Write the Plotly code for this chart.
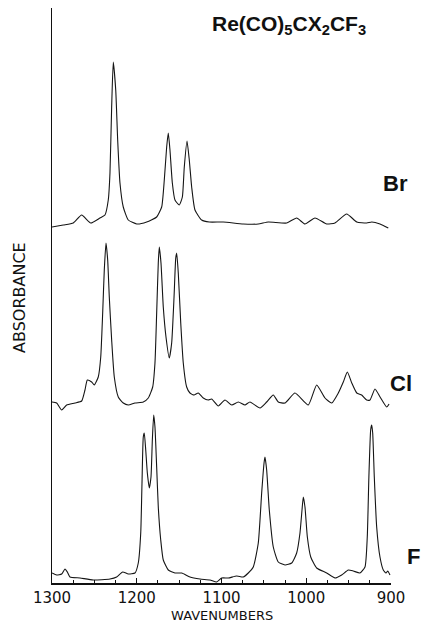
import plotly.graph_objects as go

# ---- data (wavenumber, absorbance relative to each trace's baseline) ----
br_wn = [1300, 1286.7, 1274.9, 1265.0, 1254.3, 1243.4, 1237.5, 1233.6, 1231.6, 1229.6, 1227.7,
         1224.8, 1222.5, 1219.8, 1215.9, 1210.0, 1200.0, 1188.3, 1176.5, 1170.6, 1167.5, 1164.7,
         1162.8, 1160.8, 1158.0, 1154.9, 1149.8, 1146.2, 1143.9, 1140.7, 1138.0, 1135.2, 1131.3,
         1123.4, 1114.4, 1097.9, 1074.3, 1056.6, 1044.8, 1023.1, 1011.3, 1001.5, 989.7, 975.9,
         966.1, 952.3, 940.4, 928.7, 922.7, 913.0, 903.2]
br_abs = [0.02, 0.04, 0.06, 0.14, 0.06, 0.11, 0.14, 0.29, 0.56, 1.22, 1.67,
          1.39, 0.89, 0.46, 0.22, 0.09, 0.05, 0.07, 0.12, 0.22, 0.49, 0.82,
          0.96, 0.79, 0.46, 0.29, 0.24, 0.32, 0.62, 0.88, 0.69, 0.42, 0.19,
          0.09, 0.07, 0.07, 0.05, 0.05, 0.07, 0.06, 0.11, 0.05, 0.11, 0.05,
          0.06, 0.15, 0.07, 0.06, 0.07, 0.05, 0.01]

cl_wn = [1300, 1294.5, 1288.6, 1282.7, 1272.9, 1265.0, 1261.1, 1258.3, 1253.2, 1250.1, 1245.4,
         1242.5, 1240.2, 1238.3, 1236.3, 1234.3, 1232.4, 1229.6, 1226.5, 1221.8, 1215.9, 1210.0,
         1202.1, 1192.3, 1186.4, 1181.2, 1178.5, 1176.5, 1174.6, 1173.4, 1171.4, 1168.7, 1165.5,
         1161.6, 1158.8, 1156.0, 1154.0, 1152.9, 1151.0, 1148.1, 1145.1, 1141.1, 1137.2, 1132.4,
         1127.4, 1121.5, 1115.6, 1111.6, 1103.8, 1095.9, 1087.9, 1080.2, 1072.3, 1066.4, 1054.6,
         1046.7, 1038.9, 1033.0, 1025.1, 1013.3, 997.6, 987.7, 977.9, 970.0, 962.2, 956.3,
         951.5, 946.3, 940.4, 934.6, 928.7, 924.8, 918.9, 912.9, 905.1, 902.3]
cl_abs = [0.09, 0.08, 0.01, 0.06, 0.08, 0.10, 0.21, 0.31, 0.29, 0.26, 0.34,
          0.54, 0.98, 1.41, 1.68, 1.51, 1.14, 0.71, 0.34, 0.14, 0.08, 0.06,
          0.08, 0.09, 0.13, 0.24, 0.48, 0.98, 1.48, 1.64, 1.48, 1.04, 0.74,
          0.53, 0.68, 1.14, 1.53, 1.58, 1.38, 0.88, 0.48, 0.24, 0.18, 0.16,
          0.18, 0.13, 0.11, 0.12, 0.05, 0.11, 0.06, 0.09, 0.06, 0.09, 0.03,
          0.09, 0.16, 0.09, 0.08, 0.18, 0.06, 0.26, 0.13, 0.08, 0.18, 0.29,
          0.39, 0.28, 0.18, 0.16, 0.11, 0.11, 0.22, 0.14, 0.04, 0.07]

f_wn = [1300, 1294.5, 1288.6, 1284.7, 1281.9, 1278.8, 1267.0, 1251.3, 1231.6, 1223.7, 1216.6,
        1210.0, 1202.1, 1198.2, 1195.3, 1193.8, 1192.3, 1191.1, 1189.4, 1187.5, 1185.2, 1183.2,
        1181.6, 1180.0, 1178.5, 1176.5, 1174.6, 1171.7, 1168.7, 1162.8, 1154.9, 1146.9, 1137.2,
        1125.4, 1113.6, 1105.7, 1099.8, 1092.0, 1082.1, 1074.3, 1068.4, 1062.5, 1056.6, 1052.6,
        1049.8, 1048.7, 1046.7, 1043.6, 1038.9, 1033.0, 1025.1, 1017.2, 1011.3, 1007.4, 1005.0,
        1003.5, 1001.5, 998.7, 994.7, 987.7, 975.9, 966.1, 958.2, 950.4, 944.5, 936.6,
        930.7, 928.0, 926.1, 924.0, 922.8, 921.6, 919.7, 916.9, 913.0, 909.1, 905.9,
        903.9, 901.2]
f_abs = [0.10, 0.08, 0.09, 0.14, 0.11, 0.06, 0.05, 0.03, 0.04, 0.06, 0.11,
         0.09, 0.10, 0.20, 0.50, 1.00, 1.46, 1.50, 1.33, 1.10, 0.95, 1.06,
         1.43, 1.68, 1.56, 1.16, 0.76, 0.43, 0.23, 0.13, 0.10, 0.10, 0.06,
         0.04, 0.03, 0.01, 0.05, 0.05, 0.07, 0.06, 0.10, 0.16, 0.40, 0.90,
         1.20, 1.26, 1.13, 0.73, 0.36, 0.21, 0.18, 0.20, 0.30, 0.50, 0.73,
         0.86, 0.76, 0.46, 0.26, 0.15, 0.10, 0.05, 0.08, 0.13, 0.12, 0.10,
         0.16, 0.46, 1.06, 1.53, 1.58, 1.50, 1.06, 0.56, 0.26, 0.13, 0.10,
         0.12, 0.08]

series_names = ["Br", "Cl", "F"]
x_ticks = [1300, 1200, 1100, 1000, 900]
x_tick_labels = ["1300", "1200", "1100", "1000", "900"]

# vertical stacking offsets (layout, not data)
offsets = {"Br": 3.54, "Cl": 1.72, "F": 0.0}
spectra = {"Br": (br_wn, br_abs), "Cl": (cl_wn, cl_abs), "F": (f_wn, f_abs)}

fig = go.Figure()
for name in series_names:
    wn, ab = spectra[name]
    fig.add_trace(go.Scatter(
        x=wn, y=[a + offsets[name] for a in ab], mode="lines",
        line=dict(color="#151515", width=1.1, shape="spline", smoothing=0.5),
        name=name, showlegend=False, hoverinfo="skip"))

# page body has an 8px margin, so the figure is 8px smaller and shifted
W, H = 425, 616
fig.update_layout(
    width=W, height=H,
    margin=dict(l=44, r=42, t=0, b=41),
    paper_bgcolor="white", plot_bgcolor="white",
    xaxis=dict(range=[1300, 900], tickvals=x_ticks, ticktext=x_tick_labels,
               showline=True, linecolor="#111", linewidth=1.5, showgrid=False,
               zeroline=False, ticks="inside", ticklen=5, tickcolor="#111",
               tickfont=dict(family="DejaVu Sans", size=15, color="#111"),
               ticklabelstandoff=0,
               minor=dict(dtick=25, ticks="inside", ticklen=3, tickcolor="#111")),
    yaxis=dict(range=[0, 5.75], showline=True, linecolor="#111", linewidth=1.3,
               showgrid=False, zeroline=False, showticklabels=False, ticks=""),
)

ann = []
ann.append(dict(text="WAVENUMBERS", x=(222 - 52) / 339, y=(583 - 615) / 575,
                xref="paper", yref="paper", showarrow=False, xanchor="center", yanchor="middle",
                borderpad=0, font=dict(family="DejaVu Sans", size=13, color="#111")))
ann.append(dict(text="ABSORBANCE", x=(19 - 52) / 339, y=(583 - 298) / 575, textangle=-90,
                xref="paper", yref="paper", showarrow=False, xanchor="center", yanchor="middle",
                font=dict(family="DejaVu Sans", size=16, color="#111")))
ann.append(dict(text="Re(CO)<sub>5</sub>CX<sub>2</sub>CF<sub>3</sub>", x=(289 - 52) / 339,
                y=(583 - 25) / 575, xref="paper", yref="paper", showarrow=False,
                xanchor="center", yanchor="middle",
                font=dict(family="Liberation Sans", size=21, color="#111", weight="bold")))
label_pos = {"Br": (395, 183), "Cl": (401, 383), "F": (413, 556)}
for name in series_names:
    px, py = label_pos[name]
    ann.append(dict(text=name, x=(px - 52) / 339, y=(583 - py) / 575, xref="paper", yref="paper",
                    showarrow=False, xanchor="center", yanchor="middle",
                    font=dict(family="Liberation Sans", size=22, color="#111", weight="bold")))
fig.update_layout(annotations=ann)

fig.write_html("out.html")
